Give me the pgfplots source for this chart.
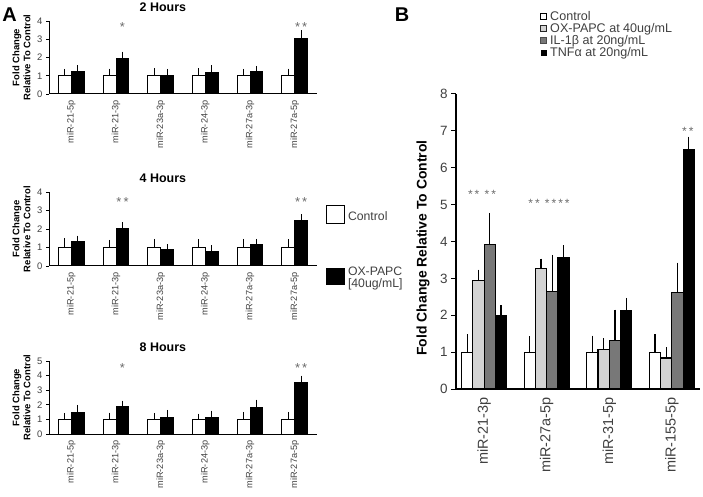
\documentclass[border=0pt]{standalone}
\usepackage{fontspec}
\setmainfont{Liberation Sans}
\usepackage{pgfplots}
\usepackage{pgfplotstable}
\pgfplotsset{compat=1.18}
\definecolor{tickgray}{HTML}{404040}
\definecolor{oxgray}{HTML}{D3D3D3}
\definecolor{ilgray}{HTML}{787878}
\definecolor{stargray}{HTML}{6A6A6A}

\pgfplotstableread{
x c ce t te
0 1 0.29 1.23 0.27
1 1 0.30 1.92 0.31
2 1 0.32 1.00 0.29
3 1 0.32 1.18 0.32
4 1 0.29 1.21 0.24
5 1 0.30 3.04 0.36
}\twoh
\pgfplotstableread{
x c ce t te
0 1 0.41 1.30 0.26
1 1 0.32 2.01 0.27
2 1 0.38 0.90 0.20
3 1 0.36 0.76 0.27
4 1 0.38 1.14 0.24
5 1 0.36 2.48 0.22
}\fourh
\pgfplotstableread{
x c ce t te
0 1 0.33 1.47 0.41
1 1 0.36 1.86 0.31
2 1 0.33 1.15 0.39
3 1 0.29 1.13 0.36
4 1 0.40 1.83 0.41
5 1 0.40 3.55 0.34
}\eighth
\pgfplotstableread{
x c ce ox oxe il ile tn tne
0 1 0.43 2.95 0.23 3.92 0.80 1.98 0.24
1 1 0.37 3.26 0.22 2.65 0.93 3.55 0.30
2 1 0.39 1.07 0.25 1.32 0.78 2.12 0.30
3 1 0.43 0.84 0.24 2.61 0.76 6.48 0.31
}\panelb

\tikzset{
  starA/.style={font=\fontsize{13}{13}\selectfont, text=stargray, anchor=base},
  starB/.style={font=\fontsize{12}{12}\selectfont, text=stargray, anchor=base},
}
\pgfplotsset{
  every axis title shift=0pt,
  panelA/.style={
    anchor=south west, scale only axis, width=268bp,
    xmin=-0.5, xmax=5.5, ymin=0,
    axis x line=bottom, axis y line=left,
    axis line style={-, black, line width=1bp},
    xtick={0,...,5},
    xticklabels={miR-21-5p,miR-21-3p,miR-23a-3p,miR-24-3p,miR-27a-3p,miR-27a-5p},
    x tick label style={rotate=90, anchor=east, font=\fontsize{9.2}{9}\selectfont, text=tickgray},
    y tick label style={font=\fontsize{9.5}{9}\selectfont, text=tickgray},
    xtick style={draw=none}, ytick style={black, line width=0.8bp},
    tick align=outside, major tick length=3bp,
    /pgf/number format/assume math mode=true,
    ylabel={Fold Change\\Relative To Control},
    ylabel style={align=center, font=\bfseries\fontsize{9.5}{11}\selectfont, at={(axis description cs:-0.1026,0.5)}, anchor=center},
    title style={font=\bfseries\fontsize{12.5}{12}\selectfont, at={(axis description cs:0.425,1)}, anchor=center, yshift=13.5bp},
    ybar, bar width=0.29, clip=false,
  },
  ctrlA/.style={fill=white, draw=black, line width=1bp, bar shift=-0.145},
  oxA/.style={fill=black, draw=black, line width=1bp, bar shift=0.145},
  errA/.style={error bars/y dir=plus, error bars/y explicit,
    error bars/error bar style={black, line width=1.2bp},
    error bars/error mark options={black, line width=1.2bp, mark size=1.6bp}},
  errB/.style={error bars/y dir=plus, error bars/y explicit,
    error bars/error bar style={black, line width=1.3bp},
    error bars/error mark options={black, line width=1.3bp, mark size=2bp}},
}

\begin{document}
\begin{tikzpicture}
\path[use as bounding box] (0,0) rectangle (703bp,497bp);

\node[font=\bfseries\fontsize{20}{20}\selectfont] at (9.5bp,482.5bp) {A};
\node[font=\bfseries\fontsize{20}{20}\selectfont] at (402bp,482bp) {B};

% 2 Hours
\begin{axis}[panelA, at={(49bp,403bp)}, height=73bp, ymax=4, ytick={0,...,4}, title={2 Hours}]
\addplot[ctrlA, errA] table[x=x, y=c, y error=ce]{\twoh};
\addplot[oxA, errA] table[x=x, y=t, y error=te]{\twoh};
\node[starA] at (axis cs:1.145,3.45) {*};
\node[starA] at (axis cs:5.145,3.45) {*\,*};
\end{axis}

% 4 Hours
\begin{axis}[panelA, at={(49bp,231bp)}, height=74bp, ymax=4, ytick={0,...,4}, title={4 Hours},
  legend style={at={(1.0336,0.824)}, anchor=north west, draw=none, fill=none,
    inner sep=0pt, outer sep=0pt, row sep=43bp,
    nodes={inner sep=0pt, anchor=base west},
    font=\fontsize{12.3}{11}\selectfont, text=tickgray,
    /tikz/every odd column/.style={column sep=3bp}}]
\addplot[ctrlA, errA, legend image code/.code={\draw[black, fill=white, line width=1bp] (0bp,-3bp) rectangle (18bp,15bp);}] table[x=x, y=c, y error=ce]{\fourh};
\addlegendentry{Control}
\addplot[oxA, errA, legend image code/.code={\draw[black, fill=black, line width=1bp] (0bp,-9bp) rectangle (18bp,7bp);}] table[x=x, y=t, y error=te]{\fourh};
\addlegendentry{\begin{tabular}[t]{@{}l@{}}OX-PAPC\\{}[40ug/mL]\end{tabular}}
\node[starA] at (axis cs:1.145,3.2) {*\,*};
\node[starA] at (axis cs:5.145,3.2) {*\,*};
\end{axis}

% 8 Hours
\begin{axis}[panelA, at={(49bp,63bp)}, height=73bp, ymax=5, ytick={0,...,5}, title={8 Hours}]
\addplot[ctrlA, errA] table[x=x, y=c, y error=ce]{\eighth};
\addplot[oxA, errA] table[x=x, y=t, y error=te]{\eighth};
\node[starA] at (axis cs:1.145,4.2) {*};
\node[starA] at (axis cs:5.145,4.2) {*\,*};
\end{axis}

% Panel B
\begin{axis}[anchor=south west, at={(456bp,108bp)}, scale only axis, width=244bp, height=295bp,
  xmin=-0.45, xmax=3.45, ymin=0, ymax=8, ytick={0,...,8},
  axis x line=bottom, axis y line=left,
  axis line style={-, black, line width=1.3bp},
  xtick={0,1,2,3}, xticklabels={miR-21-3p,miR-27a-5p,miR-31-5p,miR-155-5p},
  x tick label style={rotate=90, anchor=east, font=\fontsize{14.5}{14}\selectfont, text=tickgray},
  y tick label style={font=\fontsize{13.5}{14}\selectfont, text=tickgray},
  xtick style={draw=none}, ytick style={black, line width=1bp},
  tick align=outside, major tick length=5bp,
  /pgf/number format/assume math mode=true,
  ylabel={Fold Change Relative To Control},
  ylabel style={font=\bfseries\fontsize{14}{14}\selectfont, at={(axis description cs:-0.135,0.478)}, anchor=center},
  ybar, bar width=0.18, clip=false,
  legend style={at={(0.344,1.2814)}, anchor=north west, draw=none, fill=none,
    inner sep=0pt, outer sep=0pt, row sep=0pt,
    nodes={inner sep=0pt, anchor=base west, text height=9.2bp, text depth=3bp},
    font=\fontsize{12.6}{12}\selectfont, text=tickgray,
    /tikz/every odd column/.style={column sep=3bp}},
]
\addplot[fill=white, draw=black, line width=1.2bp, bar shift=-0.27, errB,
  legend image code/.code={\draw[black, fill=white, line width=1.3bp] (0.6bp,1bp) rectangle (6.6bp,7bp);}]
  table[x=x, y=c, y error=ce]{\panelb};
\addlegendentry{Control}
\addplot[fill=oxgray, draw=black, line width=1.2bp, bar shift=-0.09, errB,
  legend image code/.code={\draw[black!85, fill=oxgray, line width=1.3bp] (0.6bp,1bp) rectangle (6.6bp,7bp);}]
  table[x=x, y=ox, y error=oxe]{\panelb};
\addlegendentry{OX-PAPC at 40ug/mL}
\addplot[fill=ilgray, draw=black, line width=1.2bp, bar shift=0.09, errB,
  legend image code/.code={\draw[black!70, fill=ilgray, line width=0.8bp] (0.6bp,1bp) rectangle (6.6bp,7bp);}]
  table[x=x, y=il, y error=ile]{\panelb};
\addlegendentry{IL-1β at 20ng/mL}
\addplot[fill=black, draw=black, line width=1.2bp, bar shift=0.27, errB,
  legend image code/.code={\fill[black] (1.2bp,1.3bp) rectangle (6.2bp,6.3bp);}]
  table[x=x, y=tn, y error=tne]{\panelb};
\addlegendentry{TNFα at 20ng/mL}
\node[starB] at (axis cs:-0.035,5.17) {*\,*\;\,*\,*};
\node[starB] at (axis cs:1.036,4.92) {*\,*\;\,*\,*\,*\,*};
\node[starB] at (axis cs:3.256,6.87) {*\,*};
\end{axis}
\end{tikzpicture}
\end{document}
